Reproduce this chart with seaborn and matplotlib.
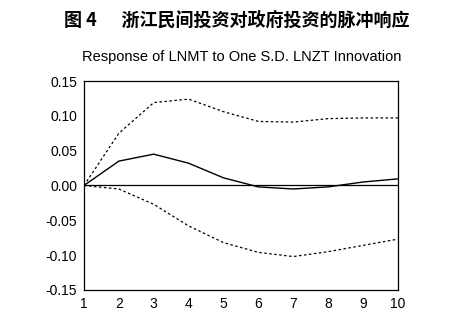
import matplotlib
matplotlib.use("Agg")
import matplotlib.pyplot as plt
import seaborn as sns
import pandas as pd

periods = [1, 2, 3, 4, 5, 6, 7, 8, 9, 10]
response = [0.0, 0.035, 0.045, 0.032, 0.011, -0.002, -0.005, -0.002, 0.005, 0.0095]
upper = [0.0, 0.075, 0.119, 0.124, 0.106, 0.092, 0.091, 0.096, 0.097, 0.097]
lower = [0.0, -0.005, -0.027, -0.058, -0.082, -0.096, -0.102, -0.095, -0.086, -0.077]
yticks = [-0.15, -0.10, -0.05, 0.00, 0.05, 0.10, 0.15]
ytick_labels = ["-0.15", "-0.10", "-0.05", "0.00", "0.05", "0.10", "0.15"]

sns.set_style("white")
plt.rcParams['font.family'] = ['Liberation Sans', 'Noto Sans CJK SC']

df = pd.DataFrame({"period": periods, "response": response, "upper": upper, "lower": lower})

fig = plt.figure(figsize=(4.65, 3.23), dpi=100)
ax = fig.add_axes([0.1806, 0.1022, 0.675, 0.647])

ax.axhline(0, color="black", lw=0.9, zorder=1)
sns.lineplot(data=df, x="period", y="upper", ax=ax, color="black", lw=0.9, linestyle=(0, (2, 2)))
sns.lineplot(data=df, x="period", y="lower", ax=ax, color="black", lw=0.9, linestyle=(0, (2, 2)))
sns.lineplot(data=df, x="period", y="response", ax=ax, color="black", lw=1.0)

ax.set_xlim(1, 10)
ax.set_ylim(-0.15, 0.15)
ax.set_xticks(periods)
ax.set_xticklabels([str(p) for p in periods], fontsize=10)
ax.set_yticks(yticks)
ax.set_yticklabels(ytick_labels, fontsize=10)
ax.set_xlabel("")
ax.set_ylabel("")
for s in ax.spines.values():
    s.set_color("black")
    s.set_linewidth(0.9)
ax.tick_params(axis="both", direction="out", length=3, width=0.8, color="black", pad=2, labelcolor="black")

fig.text(0.51, 0.938, "图 4      浙江民间投资对政府投资的脉冲响应", ha="center", va="center",
         fontsize=13, fontweight="bold", color="black", family=["Noto Sans CJK SC", "DejaVu Sans"])
fig.text(0.52, 0.823, "Response of LNMT to One S.D. LNZT Innovation", ha="center", va="center",
         fontsize=10.5, color="black", family=["Liberation Sans"])

fig.savefig("out.png", dpi=100, facecolor="white")
